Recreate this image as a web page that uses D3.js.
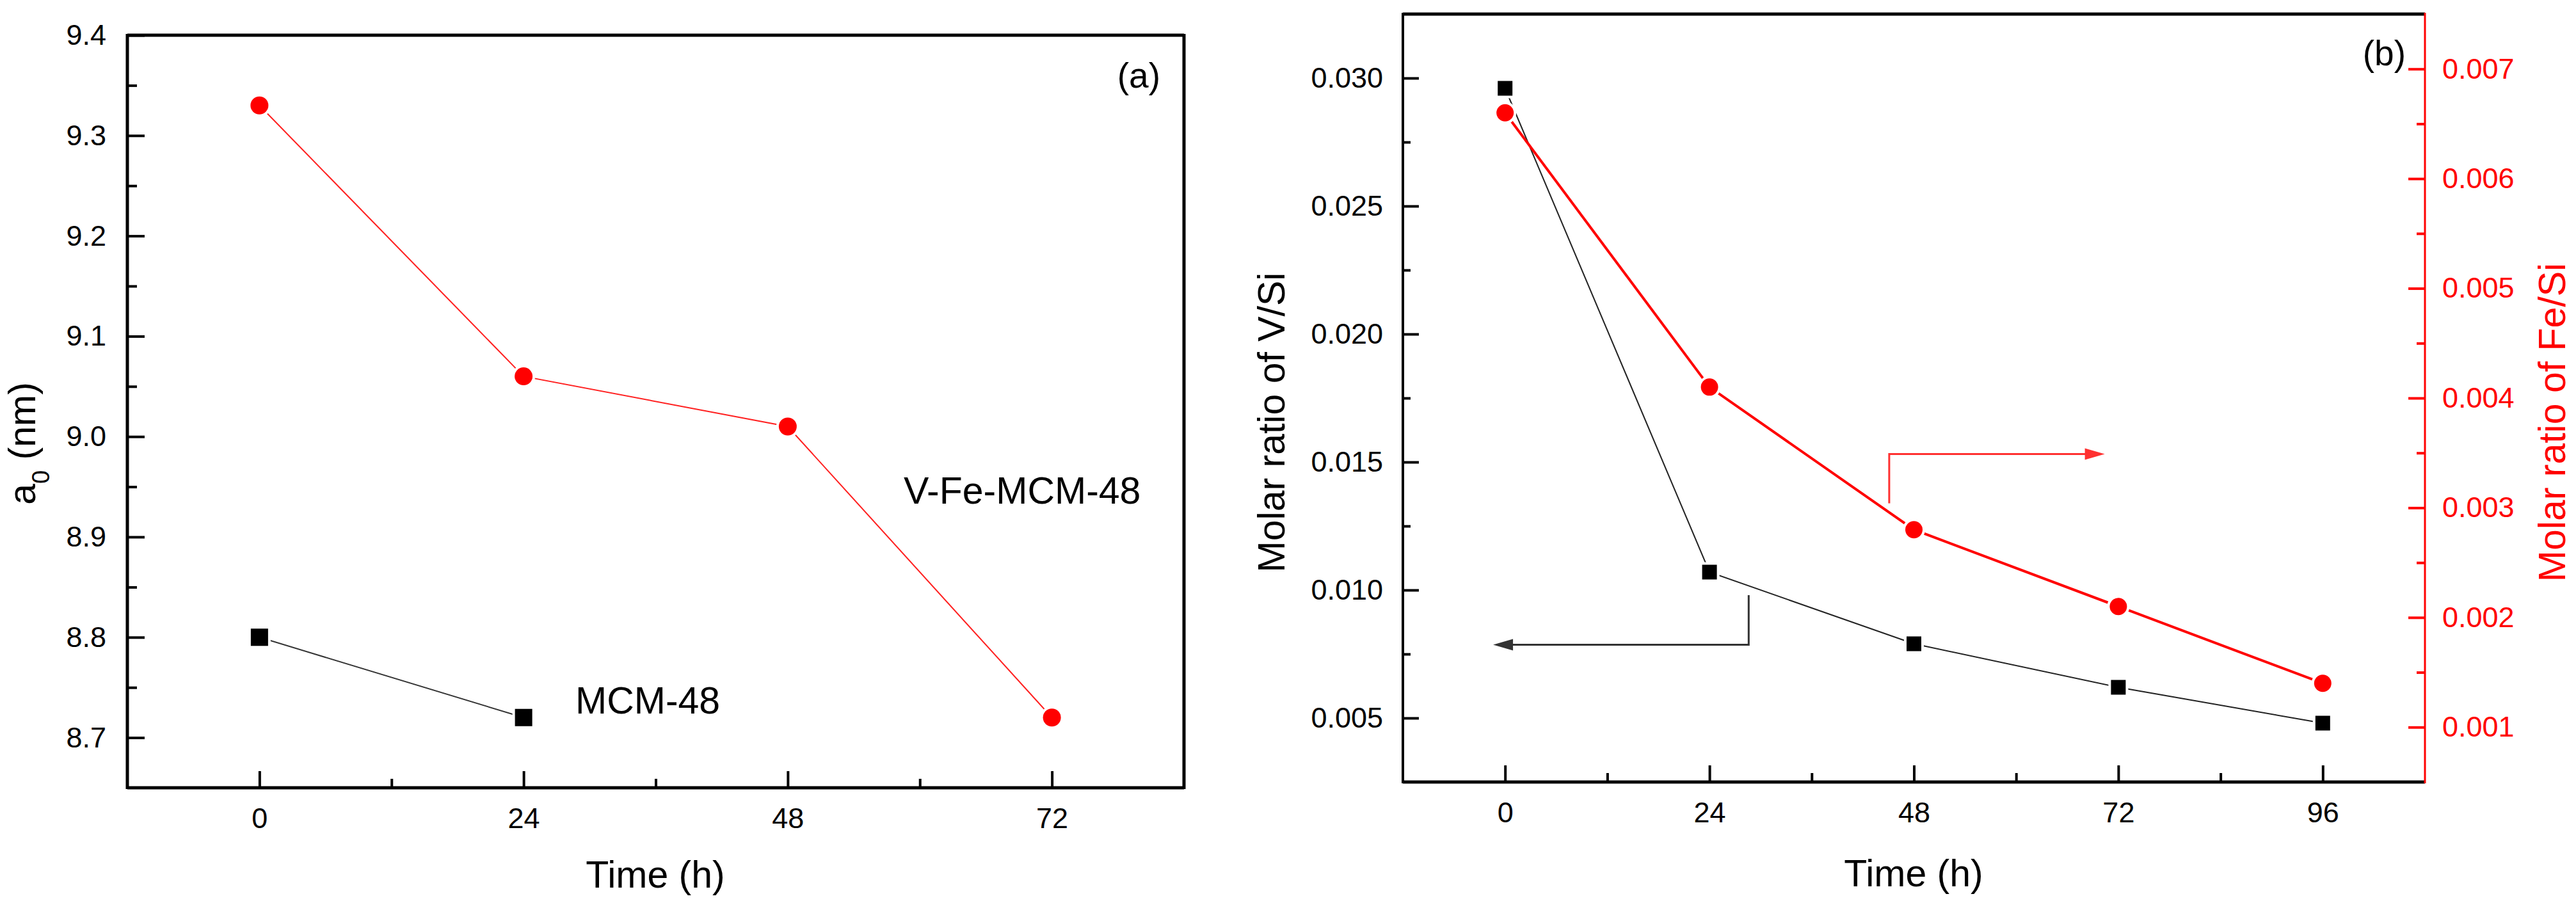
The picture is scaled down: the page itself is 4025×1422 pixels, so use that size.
<!DOCTYPE html>
<html>
<head>
<meta charset="utf-8">
<script src="https://cdn.jsdelivr.net/npm/d3@7"></script>
<style>
  body { margin: 0; background: #fff; }
  svg { display: block; font-family: "Liberation Sans", Arial, sans-serif; }
</style>
</head>
<body>
<svg id="chart" width="4025" height="1422"></svg>
<script>
// panel (a): unit cell parameter
var timesA = [0, 24, 48, 72]
var vfeA = [9.33, 9.06, 9.01, 8.72]
var mcmTimes = [0, 24]
var mcmA = [8.80, 8.72]
var yTicksA = [8.7, 8.8, 8.9, 9.0, 9.1, 9.2, 9.3, 9.4]
var xTicksA = [0, 24, 48, 72]

// panel (b): molar ratios
var timesB = [0, 24, 48, 72, 96]
var vSi = [0.0296, 0.0107, 0.0079, 0.0062, 0.0048]
var feSi = [0.0066, 0.0041, 0.0028, 0.0021, 0.0014]
var yTicksBL = [0.005, 0.010, 0.015, 0.020, 0.025, 0.030]
var yTicksBR = [0.001, 0.002, 0.003, 0.004, 0.005, 0.006, 0.007]
var xTicksB = [0, 24, 48, 72, 96]

// arrow annotations, in data units [time, ratio]
var arrowV = [[28.6, 0.0098], [28.6, 0.00786], [-1.4, 0.00786]]
var arrowFe = [[45.1, 0.00304], [45.1, 0.00349], [70.4, 0.00349]]

var svg = d3.select("#chart")
svg.append("rect").attr("width", 4025).attr("height", 1422).attr("fill", "#fff")

function frame(g, x0, x1, y0, y1, rightColor, widths) {
  g.append("line").attr("x1", x0).attr("x2", x1).attr("y1", y0).attr("y2", y0)
    .attr("stroke", "#000").attr("stroke-width", widths[0])
  g.append("line").attr("x1", x0).attr("x2", x1).attr("y1", y1).attr("y2", y1)
    .attr("stroke", "#000").attr("stroke-width", widths[0])
  g.append("line").attr("x1", x0).attr("x2", x0).attr("y1", y0 - 2).attr("y2", y1 + 2)
    .attr("stroke", "#000").attr("stroke-width", widths[1])
  g.append("line").attr("x1", x1).attr("x2", x1).attr("y1", y0 - 2).attr("y2", y1 + 2)
    .attr("stroke", rightColor).attr("stroke-width", widths[2])
}

function styleAxis(sel, color) {
  sel.select(".domain").remove()
  sel.selectAll(".tick line").attr("stroke", color).attr("stroke-width", 4)
  sel.selectAll(".tick text").attr("fill", color).attr("font-size", 45)
    .attr("font-family", "Liberation Sans, Arial, sans-serif")
}

function minors(ticks) {
  var out = []
  for (var i = 0; i < ticks.length - 1; i++) out.push((ticks[i] + ticks[i + 1]) / 2)
  return out
}

function markers(g, data, x, y, shape, size, color) {
  if (shape === "square") {
    g.selectAll(null).data(data).enter().append("rect")
      .attr("x", function(d) { return x(d[0]) - size / 2 })
      .attr("y", function(d) { return y(d[1]) - size / 2 })
      .attr("width", size).attr("height", size)
      .attr("fill", color).attr("stroke", "#fff").attr("stroke-width", 8)
      .style("paint-order", "stroke")
  } else {
    g.selectAll(null).data(data).enter().append("circle")
      .attr("cx", function(d) { return x(d[0]) })
      .attr("cy", function(d) { return y(d[1]) })
      .attr("r", size / 2)
      .attr("fill", color).attr("stroke", "#fff").attr("stroke-width", 8)
      .style("paint-order", "stroke")
  }
}

function series(g, data, x, y, color, width) {
  g.append("path").datum(data)
    .attr("fill", "none").attr("stroke", color).attr("stroke-width", width)
    .attr("d", d3.line().x(function(d) { return x(d[0]) }).y(function(d) { return y(d[1]) }))
}

function zip(a, b) { return a.map(function(v, i) { return [v, b[i]] }) }

// ---------- panel (a) ----------
var xA = d3.scaleLinear().domain([-12, 84]).range([199, 1850])
var yA = d3.scaleLinear().domain([8.65, 9.4]).range([1231, 55])
var gA = svg.append("g")

gA.append("g").attr("transform", "translate(0,1231)")
  .call(d3.axisBottom(xA).tickValues(xTicksA).tickSize(-26).tickSizeOuter(0).tickPadding(31).tickFormat(d3.format("d")))
  .call(styleAxis, "#000")
gA.append("g").attr("transform", "translate(0,1231)")
  .call(d3.axisBottom(xA).tickValues(minors(xTicksA)).tickSize(-14).tickSizeOuter(0).tickFormat(""))
  .call(styleAxis, "#000")
gA.append("g").attr("transform", "translate(199,0)")
  .call(d3.axisLeft(yA).tickValues(yTicksA).tickSize(-27).tickSizeOuter(0).tickPadding(33).tickFormat(d3.format(".1f")))
  .call(styleAxis, "#000")
gA.append("g").attr("transform", "translate(199,0)")
  .call(d3.axisLeft(yA).tickValues(minors(yTicksA)).tickSize(-15).tickSizeOuter(0).tickFormat(""))
  .call(styleAxis, "#000")
frame(gA, 199, 1850, 55, 1231, "#000", [5, 5, 5])

series(gA, zip(timesA, vfeA), xA, yA, "#ff2020", 2)
series(gA, zip(mcmTimes, mcmA), xA, yA, "#333", 2)
markers(gA, zip(timesA, vfeA), xA, yA, "circle", 28, "#ff0000")
markers(gA, zip(mcmTimes, mcmA), xA, yA, "square", 27, "#000")

gA.append("text").attr("x", 1024).attr("y", 1387).attr("text-anchor", "middle")
  .attr("font-size", 59).text("Time (h)")
var tA = gA.append("text").attr("transform", "translate(55,693) rotate(-90)")
  .attr("text-anchor", "middle").attr("font-size", 59)
tA.append("tspan").text("a")
tA.append("tspan").attr("font-size", 38).attr("dy", 22).text("0")
tA.append("tspan").attr("dy", -22).text(" (nm)")
gA.append("text").attr("x", 1813).attr("y", 137).attr("text-anchor", "end")
  .attr("font-size", 55).text("(a)")
gA.append("text").attr("x", 1412).attr("y", 787).attr("font-size", 59).text("V-Fe-MCM-48")
gA.append("text").attr("x", 899).attr("y", 1115).attr("font-size", 59).text("MCM-48")

// ---------- panel (b) ----------
var xB = d3.scaleLinear().domain([-12, 108]).range([2192, 3789])
var yBL = d3.scaleLinear().domain([0.0025, 0.0325]).range([1222, 22])
var yBR = d3.scaleLinear().domain([0.0005, 0.0075]).range([1222, 22])
var gB = svg.append("g")

gB.append("g").attr("transform", "translate(0,1222)")
  .call(d3.axisBottom(xB).tickValues(xTicksB).tickSize(-26).tickSizeOuter(0).tickPadding(31).tickFormat(d3.format("d")))
  .call(styleAxis, "#000")
gB.append("g").attr("transform", "translate(0,1222)")
  .call(d3.axisBottom(xB).tickValues(minors(xTicksB)).tickSize(-14).tickSizeOuter(0).tickFormat(""))
  .call(styleAxis, "#000")
gB.append("g").attr("transform", "translate(2192,0)")
  .call(d3.axisLeft(yBL).tickValues(yTicksBL).tickSize(-25).tickSizeOuter(0).tickPadding(31).tickFormat(d3.format(".3f")))
  .call(styleAxis, "#000")
gB.append("g").attr("transform", "translate(2192,0)")
  .call(d3.axisLeft(yBL).tickValues(minors(yTicksBL)).tickSize(-12).tickSizeOuter(0).tickFormat(""))
  .call(styleAxis, "#000")
gB.append("g").attr("transform", "translate(3789,0)")
  .call(d3.axisRight(yBR).tickValues(yTicksBR).tickSize(-26).tickSizeOuter(0).tickPadding(27).tickFormat(d3.format(".3f")))
  .call(styleAxis, "#ff0000")
gB.append("g").attr("transform", "translate(3789,0)")
  .call(d3.axisRight(yBR).tickValues(minors(yTicksBR)).tickSize(-13).tickSizeOuter(0).tickFormat(""))
  .call(styleAxis, "#ff0000")
frame(gB, 2192, 3789, 22, 1222, "#ff0000", [5, 4, 3])

series(gB, zip(timesB, vSi), xB, yBL, "#222", 2)
series(gB, zip(timesB, feSi), xB, yBR, "#ff0000", 4)
markers(gB, zip(timesB, vSi), xB, yBL, "square", 23, "#000")
markers(gB, zip(timesB, feSi), xB, yBR, "circle", 27, "#ff0000")

// arrows pointing to each series' axis
function arrow(g, pts, y, color, dir) {
  var p = pts.map(function(d) { return [xB(d[0]), y(d[1])] })
  var end = p[p.length - 1]
  g.append("path").datum(p).attr("fill", "none").attr("stroke", color).attr("stroke-width", 3)
    .attr("d", d3.line()(p.slice(0, -1).concat([[end[0] - dir * 20, end[1]]])))
  g.append("path").attr("fill", color)
    .attr("d", d3.line()([[end[0], end[1]], [end[0] - dir * 31, end[1] - 9], [end[0] - dir * 31, end[1] + 9]]) + "Z")
}
arrow(gB, arrowV, yBL, "#333", -1)
arrow(gB, arrowFe, yBR, "#ff3030", 1)

gB.append("text").attr("x", 2990).attr("y", 1385).attr("text-anchor", "middle")
  .attr("font-size", 59).text("Time (h)")
gB.append("text").attr("transform", "translate(2007,660) rotate(-90)")
  .attr("text-anchor", "middle").attr("font-size", 59).text("Molar ratio of V/Si")
gB.append("text").attr("transform", "translate(4008,660) rotate(-90)")
  .attr("text-anchor", "middle").attr("font-size", 59).attr("fill", "#ff0000").text("Molar ratio of Fe/Si")
gB.append("text").attr("x", 3759).attr("y", 102).attr("text-anchor", "end")
  .attr("font-size", 55).text("(b)")
</script>
</body>
</html>
